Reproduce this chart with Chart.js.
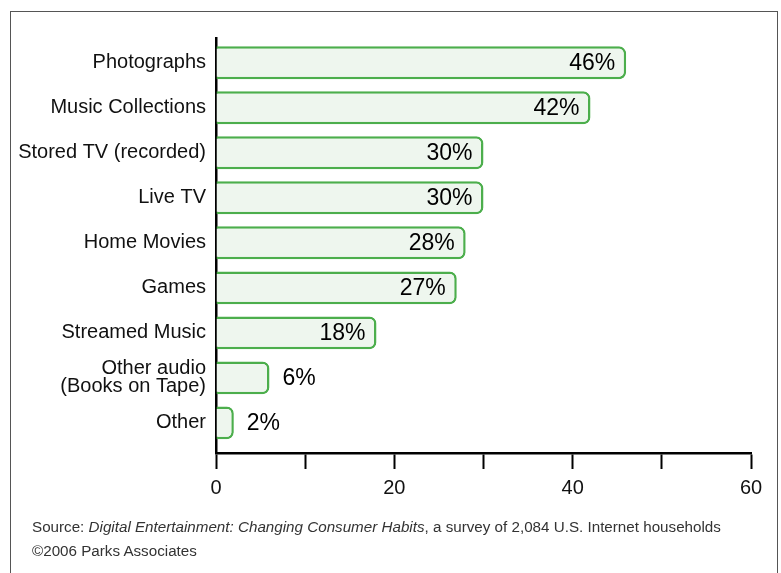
<!DOCTYPE html>
<html>
<head>
<meta charset="utf-8">
<script src="https://cdn.jsdelivr.net/npm/chart.js@4"></script>
<style>
  html, body { margin: 0; padding: 0; background: #fff; }
  #wrap { position: relative; width: 781px; height: 573px; overflow: hidden; }
  #frame {
    position: absolute; left: 10px; top: 11px; width: 768px; height: 600px;
    border: 1.5px solid #555; box-sizing: border-box;
  }
  #chart { position: absolute; left: 0; top: 0; }
  .note {
    position: absolute; left: 32px; font-family: 'Liberation Sans', Arial, sans-serif;
    font-size: 15.2px; color: #333; white-space: nowrap;
  }
</style>
</head>
<body>
<div id="wrap">
  <div id="frame"></div>
  <canvas id="chart" width="781" height="573"></canvas>
  <div class="note" style="top:518px">Source: <i>Digital Entertainment: Changing Consumer Habits</i>, a survey of 2,084 U.S. Internet households</div>
  <div class="note" style="top:542px">©2006 Parks Associates</div>
</div>
<script>
// 分类与数值
const categories = [
  'Photographs',
  'Music Collections',
  'Stored TV (recorded)',
  'Live TV',
  'Home Movies',
  'Games',
  'Streamed Music',
  ['Other audio', '(Books on Tape)'],
  'Other'
];
const shares = [46, 42, 30, 30, 28, 27, 18, 6, 2];
const xTickLabels = { 0: '0', 20: '20', 40: '40', 60: '60' };

const COLORS = {
  fill: '#eef6ee',
  border: '#4cae4c',
  axis: '#000',
  text: '#111'
};
const FONT = "'Liberation Sans', Arial, sans-serif";

// 数值标签
const valueLabels = {
  id: 'valueLabels',
  afterDatasetsDraw(chart) {
    const ctx = chart.ctx;
    const meta = chart.getDatasetMeta(0);
    ctx.save();
    ctx.font = '23px ' + FONT;
    ctx.fillStyle = '#000';
    ctx.textBaseline = 'middle';
    meta.data.forEach((bar, i) => {
      const v = shares[i];
      const txt = v + '%';
      if (v >= 15) {
        ctx.textAlign = 'right';
        ctx.fillText(txt, bar.x - 11, bar.y + 1);
      } else {
        ctx.textAlign = 'left';
        ctx.fillText(txt, bar.x + 13, bar.y + 1);
      }
    });
    ctx.restore();
  }
};

new Chart(document.getElementById('chart'), {
  type: 'bar',
  data: {
    datasets: [{
      data: shares.map((v, i) => ({ x: v, y: i })),
      backgroundColor: COLORS.fill,
      borderColor: COLORS.border,
      borderWidth: 2.5,
      borderRadius: 7,
      borderSkipped: 'start',
      barPercentage: 0.73,
      categoryPercentage: 1
    }]
  },
  options: {
    indexAxis: 'y',
    responsive: false,
    animation: false,
    layout: { padding: { top: 38, right: 30, bottom: 70, left: 0 } },
    plugins: {
      legend: { display: false },
      tooltip: { enabled: false }
    },
    scales: {
      x: {
        type: 'linear',
        min: 0,
        max: 60,
        afterFit(scale) { scale.height = 50; },
        border: { color: COLORS.axis, width: 2.5 },
        grid: {
          drawOnChartArea: false,
          drawTicks: true,
          tickLength: 16,
          tickWidth: 2,
          tickColor: COLORS.axis
        },
        ticks: {
          stepSize: 10,
          padding: 7,
          color: COLORS.text,
          font: { family: FONT, size: 20 },
          callback: v => xTickLabels[v] !== undefined ? xTickLabels[v] : ''
        }
      },
      y: {
        type: 'linear',
        reverse: true,
        offset: false,
        bounds: 'data',
        min: -0.55,
        max: 8.67,
        afterFit(scale) { scale.width = 216; },
        afterBuildTicks(scale) {
          scale.ticks = categories.map((c, i) => ({ value: i }));
        },
        border: { color: COLORS.axis, width: 2.5 },
        grid: { display: false, drawTicks: false, offset: false },
        ticks: {
          padding: 10,
          color: COLORS.text,
          font: { family: FONT, size: 20, lineHeight: 0.9 },
          callback: v => categories[v]
        }
      }
    }
  },
  plugins: [valueLabels]
});
</script>
</body>
</html>
